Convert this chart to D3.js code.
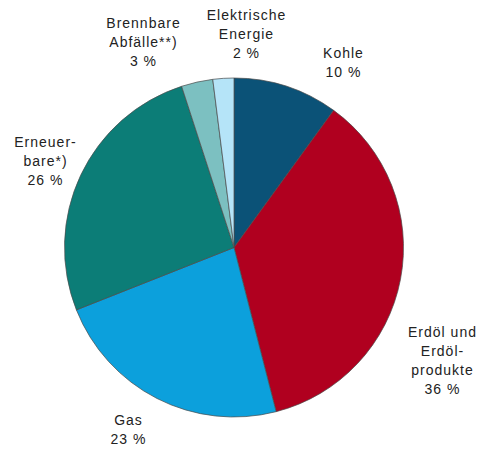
<!DOCTYPE html>
<html>
<head>
<meta charset="utf-8">
<script src="https://cdn.jsdelivr.net/npm/d3@7"></script>
<style>
  body { margin: 0; background: #fff; }
  text { font-family: "Liberation Sans", Arial, sans-serif; font-size: 14px; letter-spacing: 1px; fill: #222; }
</style>
</head>
<body>
<div class="chart"></div>
<script>
// Data
const categories = ["Kohle", "Erdöl und Erdölprodukte", "Gas", "Erneuerbare*)", "Brennbare Abfälle**)", "Elektrische Energie"];
const values = [10, 36, 23, 26, 3, 2];
const labelLines = [
    ["Kohle"],
    ["Erdöl und", "Erdöl-", "produkte"],
    ["Gas"],
    ["Erneuer-", "bare*)"],
    ["Brennbare", "Abfälle**)"],
    ["Elektrische", "Energie"]
];
const colors = ["#0b5277", "#b0001f", "#0ca0dc", "#0c7d77", "#7cc0c1", "#b5e4f8"];

// label layout (centre x, first baseline)
const labelPos = [
    { x: 343, y: 58 },
    { x: 442, y: 337 },
    { x: 128, y: 425 },
    { x: 45, y: 147 },
    { x: 143, y: 28 },
    { x: 246, y: 20 }
];
const lineH = 19;

const width = 481, height = 452;
const cx = 234, cy = 247.5, radius = 169.5;

const svg = d3.select(".chart")
    .append("svg")
    .attr("width", width)
    .attr("height", height);

const g = svg.append("g")
    .attr("transform", `translate(${cx},${cy})`);

const pie = d3.pie()
    .sort(null)
    .value(d => d);

const arc = d3.arc()
    .innerRadius(0)
    .outerRadius(radius);

g.selectAll("path")
    .data(pie(values))
    .enter()
    .append("path")
    .attr("d", arc)
    .attr("fill", (d, i) => colors[i])
    .attr("stroke", "#4a4a4a")
    .attr("stroke-width", 0.7);

// labels
const labels = svg.selectAll(".slice-label")
    .data(categories)
    .enter()
    .append("text")
    .attr("class", "slice-label")
    .attr("text-anchor", "middle");

labels.each(function(d, i) {
    const t = d3.select(this);
    const lines = labelLines[i].concat([values[i] + " %"]);
    lines.forEach((s, j) => {
        t.append("tspan")
            .attr("x", labelPos[i].x + 0.5)
            .attr("y", labelPos[i].y + j * lineH)
            .text(s);
    });
});
</script>
</body>
</html>
